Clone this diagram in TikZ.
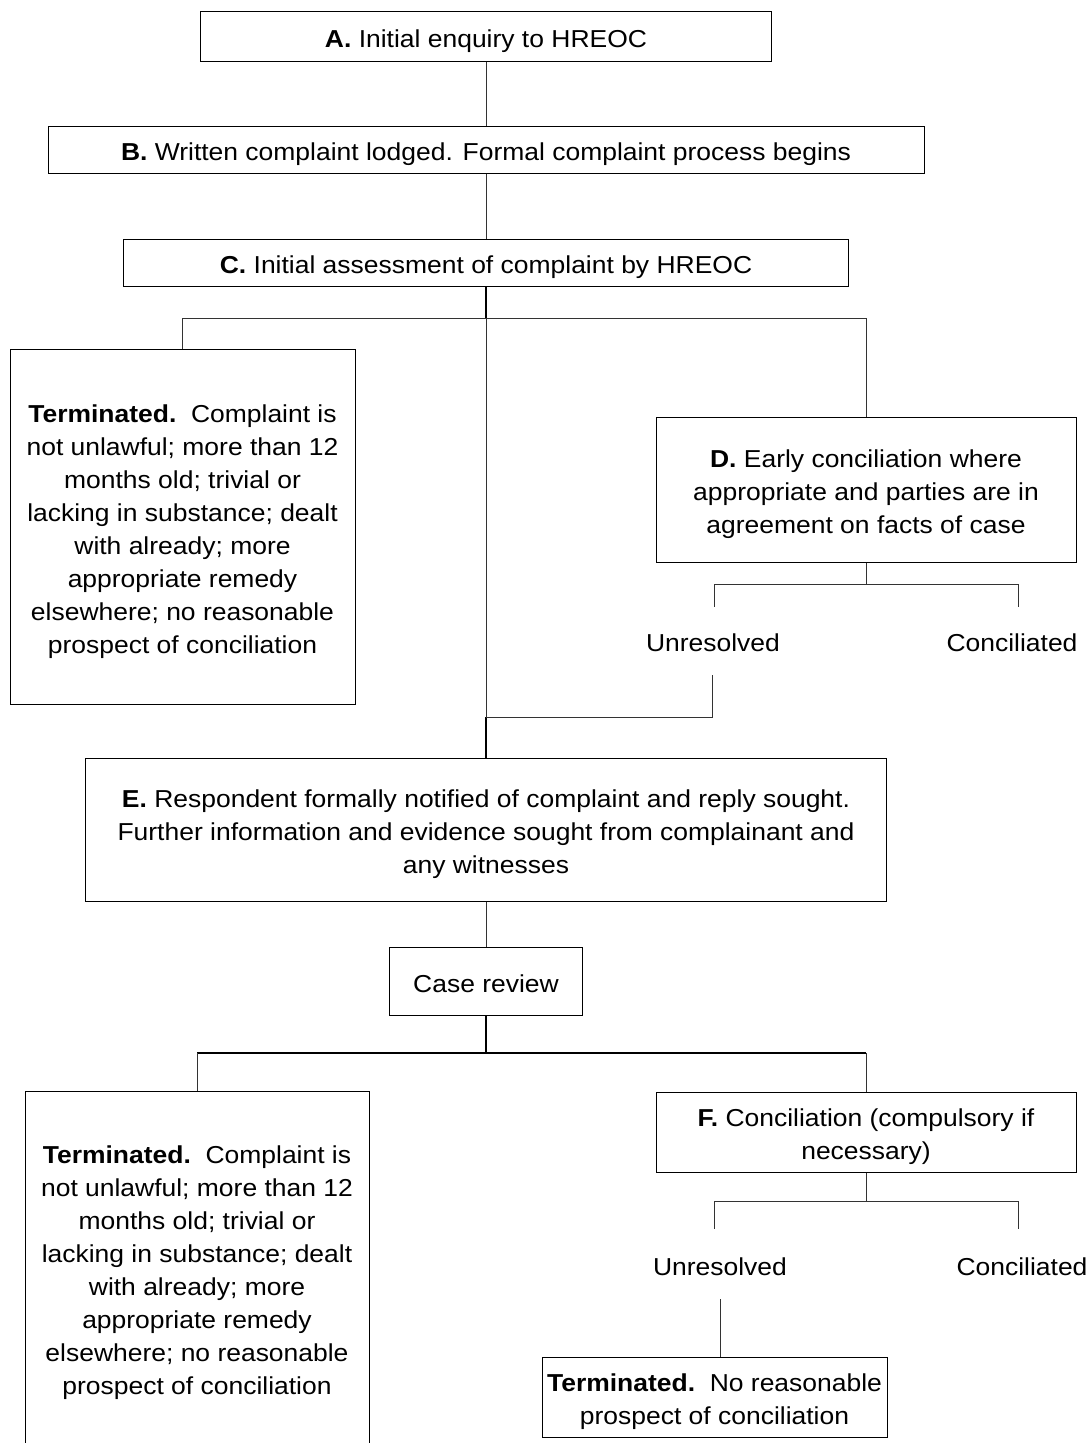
\documentclass[tikz,border=0pt]{standalone}
\usepackage{fontspec}
\setmainfont{Liberation Sans}[FakeStretch=1.08]
\newcommand\diafont{\fontsize{24.5}{33}\selectfont}
\begin{document}
\begin{tikzpicture}[x=1pt,y=-1pt,
  box/.style={draw=black, line width=1pt, align=center, inner sep=0pt, font=\diafont, anchor=center, text height=27pt, text depth=5pt},
  nlines/.style={text height={(#1-1)*33+27}},
  lbl/.style={inner sep=0pt, font=\diafont, anchor=center},
  conn/.style={draw=black!80, line width=0.9pt},
  thickconn/.style={draw=black, line width=1.4pt}]
\useasboundingbox (0,0) rectangle (1085,1443);
\clip (0,0) rectangle (1085,1443);
\fill[white] (0,0) rectangle (1085,1443);

% main column
\node[box, minimum width=571, minimum height=50] (A) at (486,36) {\textbf{A.} Initial enquiry to HREOC};
\node[box, minimum width=876, minimum height=47] (B) at (486,149.5) {\textbf{B.} Written complaint lodged. Formal complaint process begins};
\node[box, minimum width=725, minimum height=47] (C) at (486,262.5) {\textbf{C.} Initial assessment of complaint by HREOC};
\node[box, nlines=8, minimum width=345, minimum height=355] (T1) at (182.5,526.5) {\textbf{Terminated.}\ \ Complaint is\\not unlawful; more than 12\\months old; trivial or\\lacking in substance; dealt\\with already; more\\appropriate remedy\\elsewhere; no reasonable\\prospect of conciliation};
\node[box, nlines=3, minimum width=420, minimum height=145] (D) at (866,489.5) {\textbf{D.} Early conciliation where\\appropriate and parties are in\\agreement on facts of case};
\node[lbl] (U1) at (713,643) {Unresolved};
\node[lbl] (K1) at (1012,643) {Conciliated};
\node[box, nlines=3, minimum width=801, minimum height=143] (E) at (486,829.5) {\textbf{E.} Respondent formally notified of complaint and reply sought.\\Further information and evidence sought from complainant and\\any witnesses};
\node[box, minimum width=193, minimum height=68] (CR) at (486,981) {Case review};
\node[box, nlines=8, minimum width=344, minimum height=354] (T2) at (197,1268) {\textbf{Terminated.}\ \ Complaint is\\not unlawful; more than 12\\months old; trivial or\\lacking in substance; dealt\\with already; more\\appropriate remedy\\elsewhere; no reasonable\\prospect of conciliation};
\node[box, nlines=2, minimum width=420, minimum height=80] (F) at (866,1132) {\textbf{F.} Conciliation (compulsory if\\necessary)};
\node[lbl] (U2) at (720,1267) {Unresolved};
\node[lbl] (K2) at (1022,1267) {Conciliated};
\node[box, nlines=2, minimum width=345, minimum height=80] (T3) at (714.5,1397) {\textbf{Terminated.}\ \ No reasonable\\prospect of conciliation};

% junction coordinates
\coordinate (j1) at (486,318);
\coordinate (j1l) at (182.5,318);
\coordinate (j1r) at (866,318);
\coordinate (j2) at (486,717);
\coordinate (d1) at (866,584);
\coordinate (d1l) at (714,584);
\coordinate (d1r) at (1018,584);
\coordinate (d1le) at (714,607);
\coordinate (d1re) at (1018,607);
\coordinate (u1s) at (712,675);
\coordinate (u1b) at (712,717);
\coordinate (j3) at (486,1053);
\coordinate (j3l) at (197,1053);
\coordinate (j3r) at (866,1053);
\coordinate (f1) at (866,1201);
\coordinate (f1l) at (714,1201);
\coordinate (f1r) at (1018,1201);
\coordinate (f1le) at (714,1229);
\coordinate (f1re) at (1018,1229);
\coordinate (u2s) at (720,1299);
\coordinate (u2e) at (720,1357);

% connectors
\draw[conn] (A.south) -- (B.north);
\draw[conn] (B.south) -- (C.north);
\draw[thickconn] (C.south) -- (j1);
\draw[conn] (j1l) -- (j1r);
\draw[conn] (j1l) -- (T1.north);
\draw[conn] (j1r) -- (D.north);
\draw[conn] (j1) -- (j2);
\draw[thickconn] (j2) -- (E.north);
\draw[conn] (D.south) -- (d1);
\draw[conn] (d1l) -- (d1r);
\draw[conn] (d1l) -- (d1le);
\draw[conn] (d1r) -- (d1re);
\draw[conn] (u1s) -- (u1b) -- (j2);
\draw[conn] (E.south) -- (CR.north);
\draw[thickconn] (CR.south) -- (j3);
\draw[thickconn] (j3l) -- (j3r);
\draw[conn] (j3l) -- (T2.north);
\draw[conn] (j3r) -- (F.north);
\draw[conn] (F.south) -- (f1);
\draw[conn] (f1l) -- (f1r);
\draw[conn] (f1l) -- (f1le);
\draw[conn] (f1r) -- (f1re);
\draw[conn] (u2s) -- (u2e);
\end{tikzpicture}
\end{document}
